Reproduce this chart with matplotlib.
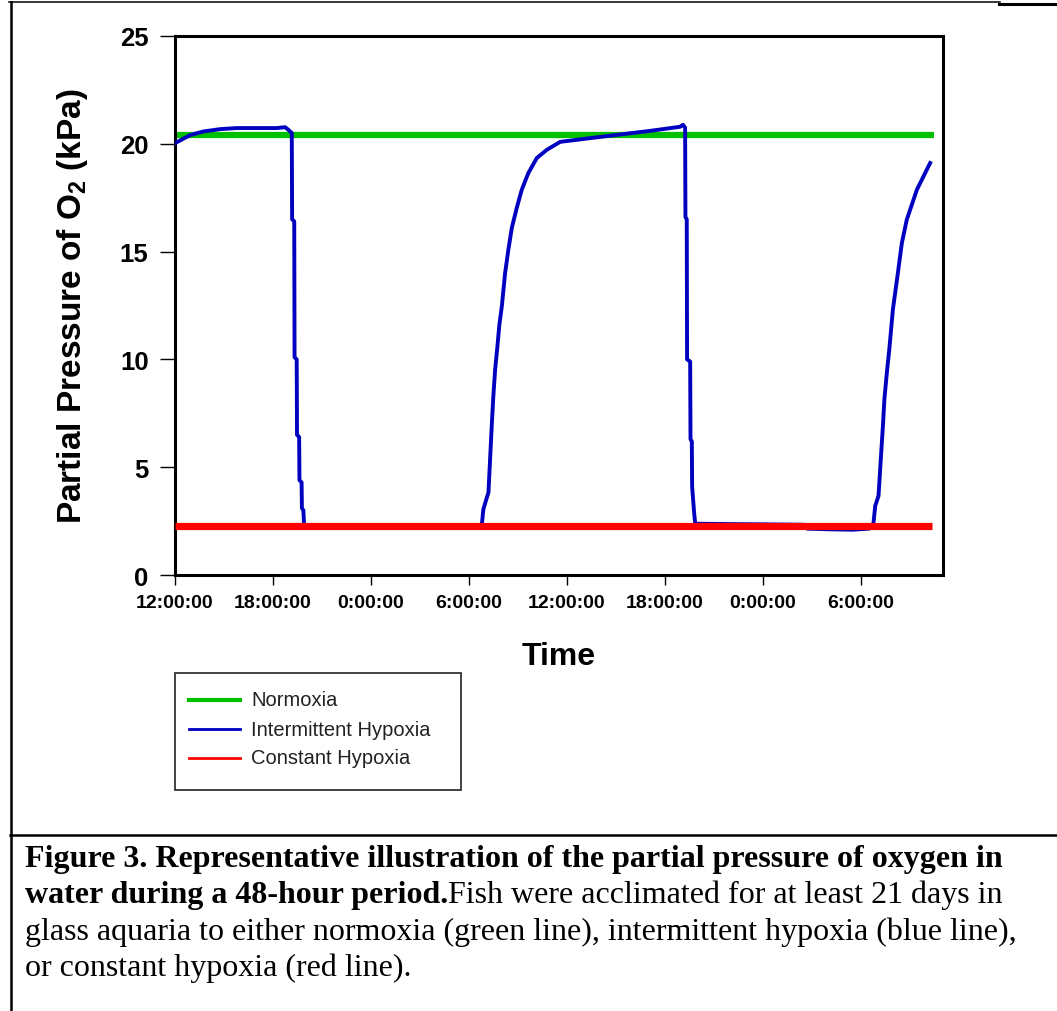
import matplotlib
matplotlib.use("Agg")
import matplotlib.pyplot as plt
from matplotlib.lines import Line2D
from matplotlib.patches import Rectangle

plt.rcParams.update({"font.family": "Liberation Sans", "mathtext.fontset": "custom",
    "mathtext.rm": "Liberation Sans:bold", "mathtext.bf": "Liberation Sans:bold"})

W, H = 1057, 1012
def fx(px): return px / W
def fy(py): return 1 - py / H

# ---- data (hours since 12:00:00, kPa) ----
norm_t = [0.0, 46.44]
norm_p = [20.42, 20.42]
const_t = [0.0, 46.33]
const_p = [2.25, 2.25]
inter_t = [0.0, 0.92, 1.73, 2.76, 3.78, 6.23, 6.74, 6.94, 7.15,
           7.17, 7.30, 7.32, 7.45, 7.47, 7.60, 7.62, 7.75, 7.77, 7.86, 7.90,
           10.0, 12.5, 15.0, 17.0, 18.78,
           18.80, 18.88, 19.19, 19.29, 19.39, 19.49, 19.60, 19.74, 19.86, 20.01, 20.21,
           20.41, 20.62, 20.92, 21.23, 21.63, 22.15, 22.76, 23.58, 26.03, 29.09, 30.92, 31.10,
           31.23, 31.25, 31.33, 31.35, 31.54, 31.56, 31.64, 31.66, 31.78, 31.85,
           34.0, 36.0, 38.5, 38.7, 40.0, 41.5, 42.5, 42.76,
           42.87, 43.07, 43.21, 43.34, 43.43, 43.58, 43.74, 43.85, 43.95, 44.09, 44.23,
           44.35, 44.50, 44.80, 45.42, 46.23]
inter_p = [20.03, 20.40, 20.57, 20.68, 20.73, 20.73, 20.77, 20.65, 20.50,
           16.5, 16.4, 10.1, 10.0, 6.5, 6.4, 4.4, 4.3, 3.1, 3.0, 2.32,
           2.30, 2.28, 2.32, 2.29, 2.32,
           2.45, 3.06, 3.83, 5.37, 6.91, 8.30, 9.54, 10.62, 11.62, 12.47, 14.01,
           15.09, 16.10, 17.02, 17.87, 18.64, 19.34, 19.72, 20.09, 20.32, 20.60, 20.79, 20.88,
           20.75, 16.6, 16.5, 10.0, 9.9, 6.3, 6.2, 4.1, 2.9, 2.38,
           2.36, 2.35, 2.33, 2.15, 2.12, 2.10, 2.15, 2.40,
           3.21, 3.67, 5.37, 6.91, 8.15, 9.38, 10.54, 11.47, 12.31, 13.09, 13.86,
           14.55, 15.40, 16.48, 17.87, 19.11]
xticks = [0, 6, 12, 18, 24, 30, 36, 42]
xticklabels = ["12:00:00", "18:00:00", "0:00:00", "6:00:00",
               "12:00:00", "18:00:00", "0:00:00", "6:00:00"]
yticks = [0, 5, 10, 15, 20, 25]
series = ["Normoxia", "Intermittent Hypoxia", "Constant Hypoxia"]
C_G = "#00C000"; C_B = "#0000C0"; C_R = "#FF0000"

fig = plt.figure(figsize=(W / 100, H / 100), dpi=100)
ax = fig.add_axes([fx(175), fy(576), (942.7 - 175) / W, (576 - 37) / H])
ax.plot(norm_t, norm_p, color=C_G, lw=4.5, solid_capstyle="butt", zorder=2)
ax.plot(inter_t, inter_p, color=C_B, lw=2.8, zorder=3)
ax.plot(const_t, const_p, color=C_R, lw=5.2, solid_capstyle="butt", zorder=4)
ax.set_xlim(0, 47.0); ax.set_ylim(0, 25)
ax.set_xticks(xticks); ax.set_xticklabels(xticklabels, fontsize=14, fontweight="bold")
ax.set_yticks(yticks); ax.set_yticklabels([str(v) for v in yticks], fontsize=18.5, fontweight="bold")
ax.tick_params(axis="y", direction="out", length=11, width=1.0, pad=8)
ax.tick_params(axis="x", direction="out", length=7, width=1.0, pad=7)
for s in ax.spines.values(): s.set_linewidth(2.2); s.set_color("black")
ax.set_xlabel("Time", fontsize=23, fontweight="bold")
ax.xaxis.label.set_va("center"); ax.xaxis.set_label_coords(0.5, -0.150)
ax.set_ylabel(r"Partial Pressure of O$_{2}$ (kPa)", fontsize=24, fontweight="bold")
ax.yaxis.label.set_va("center"); ax.yaxis.set_label_coords(-0.134, 0.5)

# legend box drawn by hand
fig.add_artist(Rectangle((fx(175), fy(791)), (461 - 175) / W, (791 - 674) / H,
               transform=fig.transFigure, fill=False, ec="#333333", lw=1.3))
for name, col, lw, py in zip(series, [C_G, C_B, C_R], [3.0, 2.0, 2.0], [701, 730, 759]):
    fig.add_artist(Line2D([fx(189), fx(240)], [fy(py), fy(py)], color=col, lw=lw,
                          transform=fig.transFigure))
    fig.text(fx(251), fy(py), name, fontsize=14.5, color="#222222", va="center", ha="left")

# page frame lines
frame = [((9, 3), (1000, 3), 1.1), ((999, 4.5), (1057, 4.5), 2.2), ((10.5, 3), (10.5, 1012), 1.8),
         ((10, 836), (1057, 836), 1.8)]
for (x0, y0), (x1, y1), lw in frame:
    fig.add_artist(Line2D([fx(x0), fx(x1)], [fy(y0), fy(y1)], color="black", lw=lw,
                          transform=fig.transFigure))

# caption
SER = "Liberation Serif"; CS = 23
fig.text(fx(25), fy(867), "Figure 3. Representative illustration of the partial pressure of oxygen in",
         family=SER, fontsize=CS, fontweight="bold", va="baseline")
t2 = fig.text(fx(25), fy(903.5), "water during a 48-hour period.", family=SER, fontsize=CS,
              fontweight="bold", va="baseline")
r = fig.canvas.get_renderer()
x_end = fig.transFigure.inverted().transform(t2.get_window_extent(r).p1)[0]
fig.text(x_end, fy(903.5), "Fish were acclimated for at least 21 days in", family=SER,
         fontsize=CS, va="baseline")
fig.text(fx(25), fy(940), "glass aquaria to either normoxia (green line), intermittent hypoxia (blue line),",
         family=SER, fontsize=CS, va="baseline")
fig.text(fx(25), fy(976.5), "or constant hypoxia (red line).", family=SER, fontsize=CS, va="baseline")

fig.savefig("out.png", dpi=100, facecolor="white")
